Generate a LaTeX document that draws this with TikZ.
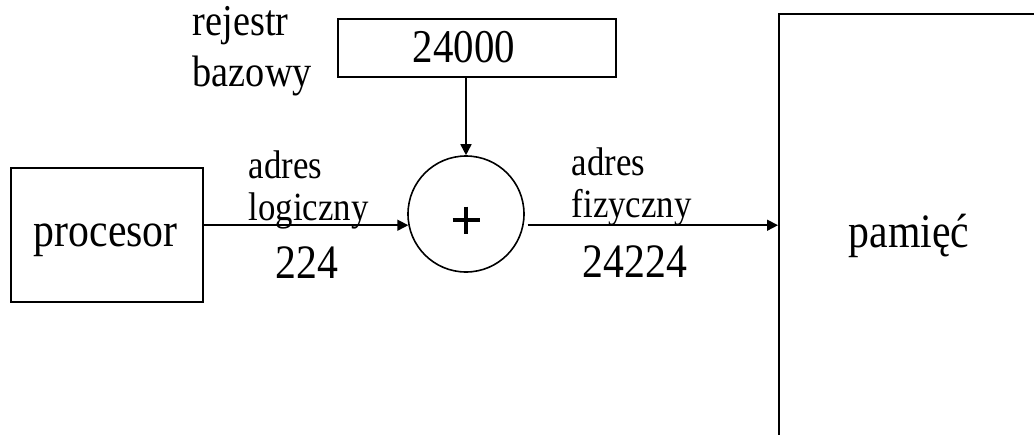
\documentclass[tikz,border=0pt]{standalone}
\usepackage{fontspec}
\setmainfont{Liberation Serif}[FakeStretch=0.87]
\usetikzlibrary{arrows.meta}
\begin{document}
\begin{tikzpicture}[x=1pt,y=-1pt,
  line width=1.6pt,
  box/.style={draw, rectangle, inner sep=0pt, anchor=north west},
  big/.style={font=\fontsize{48}{51}\selectfont, inner sep=0pt, anchor=base west, align=left},
  mid/.style={font=\fontsize{44}{51}\selectfont, inner sep=0pt, anchor=base west, align=left},
  small/.style={font=\fontsize{40}{42}\selectfont, inner sep=0pt, anchor=base west, align=left},
  arr/.style={-{Triangle[length=11pt,width=11pt]}, line width=1.6pt}]
  \useasboundingbox (0,0) rectangle (1034,434);
  \clip (0,0) rectangle (1034,434);

  % blocks
  \node[box, minimum width=192pt, minimum height=134pt] (proc) at (10,167) {};
  \node[big] (proctext) at (33,246) {procesor};

  \node[box, minimum width=278pt, minimum height=58pt] (reg) at (337,18) {};
  \node[mid, font=\fontsize{47}{51}\selectfont] (regtext) at (412,62) {24000};

  \node[draw, circle, minimum size=116pt, inner sep=0pt] (sum) at (466,214) {};
  % the plus sign inside the adder
  \draw[line width=3.2pt] ([shift={(-13.5,6)}]sum.center) -- ([shift={(13.5,6)}]sum.center)
                          ([shift={(0,-7.5)}]sum.center) -- ([shift={(0,19.5)}]sum.center);

  \node[box, minimum width=280pt, minimum height=440pt] (mem) at (778,13) {};
  \node[big] (memtext) at (848,247) {pamięć};

  % labels (multi-line nodes are anchored on their last baseline)
  \node[mid] (reglabel) at (192,86) {rejestr\\bazowy};
  \node[small] (laddr) at (248,220) {adres\\logiczny};
  \node[big] (lval) at (275,278) {224};
  \node[small] (paddr) at (571,217) {adres\\fizyczny};
  \node[big] (pval) at (582,277) {24224};

  % connectors
  \draw[arr] (reg.south -| sum.north) -- (sum.north);
  \draw[arr] (proc.east |- sum.191) -- (sum.191);
  \draw[arr] ([xshift=4pt]sum.349) -- (mem.west |- sum.349);
\end{tikzpicture}
\end{document}
